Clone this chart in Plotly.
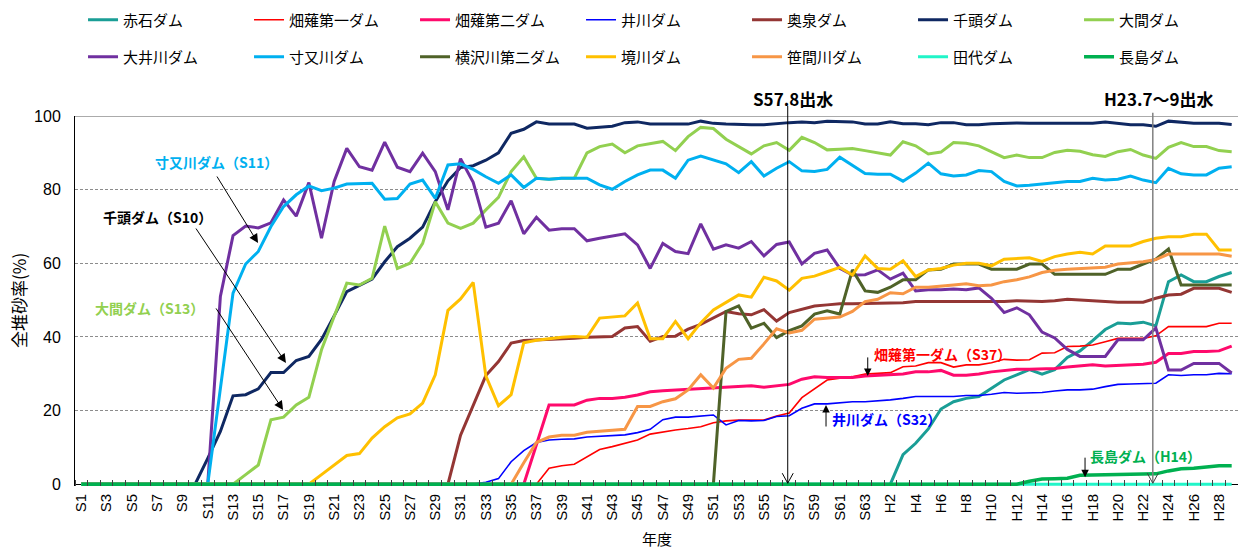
import plotly.graph_objects as go

# ---- categories (fiscal years) ----
years = [f"S{i}" for i in range(1, 64)] + [f"H{i}" for i in range(1, 30)]

# ---- series values (全堆砂率 %) ----
akaishi = [0,0,0,0,0,0,0,0,0,0,0,0,0,0,0,0,0,0,0,0,0,0,0,0,0,0,0,0,0,0,0,0,0,0,0,0,0,0,0,0,0,0,0,0,0,0,0,0,0,0,0,0,0,0,0,0,0,0,0,0,0,0,0,0,
           0,8,11.1,15,20.4,22.4,23.3,23.8,26,28.3,29.7,31.1,29.9,31.1,34.4,36.2,39,42,43.8,43.6,44,43,55,56.8,55,55,56.4,57.5]
hatanagi1 = [0,0,0,0,0,0,0,0,0,0,0,0,0,0,0,0,0,0,0,0,0,0,0,0,0,0,0,0,0,0,0,0,0,0,0,0,
             0,4.3,5,5.4,7.3,9.4,10.2,11.1,12,13.6,14.2,14.7,15.1,15.6,16.7,17.2,17.4,17.4,17.4,18.5,19.3,23.5,26,28.3,28.8,29.2,29.9,30.1,30.3,31.9,32.1,33,33,31.8,32.4,32.4,33,33.9,33.7,33.8,35.6,35.7,37.4,37.5,37.8,38.7,39.6,39.6,39.6,40.3,42.8,42.8,42.8,42.8,43.7,43.7]
hatanagi2 = [0,0,0,0,0,0,0,0,0,0,0,0,0,0,0,0,0,0,0,0,0,0,0,0,0,0,0,0,0,0,0,0,0,0,0,
             0,10.7,21.5,21.5,21.5,22.8,23.3,23.3,23.6,24.2,25.1,25.4,25.6,25.8,26.1,26.3,26.5,26.7,26.7,26.3,26.7,27.1,28.5,29.2,29,29,29,29.4,29.6,29.9,29.9,30.5,30.5,30.9,29.6,29.6,29.9,30.5,30.9,31.2,31.2,31.2,31.4,31.8,32.2,32.4,32.1,32.3,32.5,32.6,33.1,35.5,35.5,36,36,36.2,37.5]
ikawa = [0,0,0,0,0,0,0,0,0,0,0,0,0,0,0,0,0,0,0,0,0,0,0,0,0,0,0,0,0,0,0,
         0,0.5,1.5,6.1,9.1,11.3,12,12.2,12.3,12.8,13,13.1,13.4,14,14.9,17.5,18.2,18.2,18.6,18.8,16.1,17.3,17.2,17.3,18.4,18.6,20.6,21.8,21.8,22.2,22.4,22.4,22.6,22.9,23.3,23.8,23.8,23.8,23.8,24.1,24.1,24.4,24.9,24.7,24.7,24.9,25.3,25.6,25.6,25.8,26.5,27.1,27.2,27.2,27.4,29.7,29.5,29.7,29.7,30.1,30]
okuizumi = [0,0,0,0,0,0,0,0,0,0,0,0,0,0,0,0,0,0,0,0,0,0,0,0,0,0,0,0,0,
            0,13.3,21.5,29.5,33.3,38.3,39,39.1,39.2,39.4,39.6,39.9,39.9,40.1,42.4,42.8,38.8,40.1,40.2,42.1,43.4,45.2,46.9,46.3,46,47.4,44.3,46.6,47.6,48.4,48.7,49,49,49.1,49.1,49.1,49.3,49.6,49.6,49.4,49.4,49.4,49.6,49.6,49.6,49.8,49.6,49.6,49.8,50.2,50,49.7,49.6,49.4,49.4,49.4,50.5,51.4,51.6,53.2,53.2,53.2,52.1]
senzu = [0,0,0,0,0,0,0,0,0,
         0,7,14.3,24,24.3,25.9,30.3,30.3,33.6,34.7,39.3,45.7,52.3,54,55.7,60.4,64.5,66.8,69.8,76.7,82.4,86,86.5,88,90,95.3,96.4,98.4,97.8,97.8,97.8,96.7,96.9,97.2,98.2,98.4,97.8,97.8,98,97.8,98.6,98,97.8,97.6,97.6,97.6,98,98.2,
         98.4,98.2,98.6,98.6,98.4,97.8,97.8,98.4,97.9,97.9,97.6,98.2,98.2,97.6,97.6,97.9,98.1,98.1,98,98,98,98,98,98,98.4,98,97.6,97.6,97.2,98.6,98.3,98,98,98,97.7]
oma = [0,0,0,0,0,0,0,0,0,0,0,0,
       0,2.6,5.2,17.5,18.2,21.5,23.6,36.5,45.5,54.6,54.1,55.9,70.1,58.6,60,65.4,76.7,70.9,69.5,70.9,74.5,77.9,84.9,88.9,83.1,82.8,83.1,83.1,90,91.7,92.4,90,91.9,92.5,93.1,90.6,94.4,96.9,96.6,93.7,91.7,89.7,91.9,92.8,90.7,94.2,92.8,90.8,91,91.2,90.6,90,89.4,93,91.9,89.7,90.2,92.8,92.6,91.9,90.3,88.7,89.4,88.7,88.7,90.1,90.7,90.4,89.5,89,90.3,90.9,89.4,88.5,91.5,92.8,91.7,91.7,90.6,90.3]
oigawa = [0,0,0,0,0,0,0,0,0,0,
          0,51,67.5,70.1,69.6,71,77.2,72.8,81.9,66.8,82.2,91.2,86.2,85.3,92.9,86.1,84.9,89.9,84.9,74.5,88.4,82,69.8,70.9,77,68,72.5,69,69.4,69.4,66.1,66.8,67.4,68,65,58.6,65.4,63.2,62.6,70.7,63.8,65,64.1,65.9,62,65.1,65.8,59.8,62.7,63.6,58.6,56.8,56.9,58.2,55.7,57.3,52.5,52.8,52.8,53,52.8,53.3,50.5,46.6,47.9,46,41.3,39.7,36.6,34.7,34.7,34.7,39.2,39.2,39.2,42.4,31,31,32.8,32.8,32.8,30.2]
sumata = [0,0,0,0,0,0,0,0,0,0,
          0,26,51.9,59.8,63.2,70,75.4,78.6,81,79.7,80.4,81.5,81.5,81.7,77.4,77.6,81.5,82.6,77.6,86.7,87,85.5,83.5,81.7,84,80.6,83.1,82.8,83.1,83.1,83.1,81.3,80.1,82.2,84,85.3,85.3,83.1,88,89.1,88,87,84.6,87.6,83.7,85.8,87.6,85.1,84.9,85.5,88.8,86.7,84.4,84.2,84.2,82.3,84.5,87.2,84.3,83.7,84,85.2,84.9,82.2,81,81.2,81.5,81.9,82.2,82.2,83.1,82.6,82.8,83.7,82.6,81.9,85.8,84.3,84,84,85.8,86.2]
yokosawa2 = [0,0,0,0,0,0,0,0,0,0,0,0,0,0,0,0,0,0,0,0,0,0,0,0,0,0,0,0,0,0,0,0,0,0,0,0,0,0,0,0,0,0,0,0,0,0,0,0,0,0,
             0,46.9,48.4,42.4,43.7,39.8,41.7,43,46.2,47.1,46.2,58.2,52.5,52.1,53.5,55.5,55.5,58.2,58.4,59.8,59.8,59.8,58.4,58.4,58.4,59.8,59.8,57,57,57,57,57,58.4,58.4,59.8,61.1,63.9,54.1,54.1,54.1,54.1,54.1]
sakai = [0,0,0,0,0,0,0,0,0,0,0,0,0,0,0,0,0,0,
         0,2.6,5.3,7.8,8.3,12.5,15.6,18,19.1,22,29.7,47.2,50.3,54.8,29.4,21.3,24.3,38.4,39.1,39.6,39.9,40.1,39.9,45.1,45.3,45.7,49.2,39.5,39.5,44.2,39.5,43.8,47.3,49.3,51.4,50.8,56.2,55.2,52.7,55.9,56.5,57.7,58.9,56.8,62,58.6,58.4,60.7,56.4,58.2,58.6,59.5,60,60,59.3,61.1,61.3,61.5,60.5,61.8,62.5,63,62.5,64.7,64.7,64.7,65.9,66.8,67.2,67.2,67.9,67.9,63.6,63.6]
sasamagawa = [0,0,0,0,0,0,0,0,0,0,0,0,0,0,0,0,0,0,0,0,0,0,0,0,0,0,0,0,0,0,0,0,0,0,
              0,5.8,11.3,12.8,13.3,13.3,14.1,14.4,14.7,14.9,21.1,21.1,22.4,23.2,25.6,29.7,26.1,31.5,33.9,34.2,38.1,42.2,41.1,41.8,44.8,45.1,45.4,46.9,49.6,50.2,52,51.7,53.5,53.5,53.7,54.1,54.4,53.9,54.1,55,55.5,56.3,57.5,58.1,58.4,58.6,58.8,58.9,59.8,60,60.4,61,62.5,62.5,62.5,62.5,62.5,61.9]
tashiro = [0,0,0,0,0,0,0,0,0,0,0,0,0,0,0,0,0,0,0,0,0,0,0,0,0,0,0,0,0,0,0,0,0,0,0,0,0,0,0,0,0,0,0,0,0,0,
           0,0,0,0,0,0,0,0,0,0,0,0,0,0,0,0,0,0,0,0,0,0,0,0,0,0,0,0,0,0,0,0,0,0,0,0,0,0,0,0,0,0,0,0,0,0]
nagashima = [0,0,0,0,0,0,0,0,0,0,0,0,0,0,0,0,0,0,0,0,0,0,0,0,0,0,0,0,0,0,0,0,0,0,0,0,0,0,0,0,0,0,0,0,0,0,0,0,0,0,0,0,0,0,0,0,0,0,0,0,0,0,0,0,0,0,0,0,0,0,0,0,0,0,
             0,0.8,1.4,1.5,1.6,2.4,2.5,2.6,2.7,2.7,2.7,2.8,3.6,4.2,4.3,4.6,5.0,5.0]

series = [
    ("赤石ダム", akaishi, "#1A9E96", 3, "legend"),
    ("畑薙第一ダム", hatanagi1, "#FF0000", 1.6, "legend"),
    ("畑薙第二ダム", hatanagi2, "#FF0A6C", 3, "legend"),
    ("井川ダム", ikawa, "#0000FF", 1.6, "legend"),
    ("奥泉ダム", okuizumi, "#943634", 3, "legend"),
    ("千頭ダム", senzu, "#0F2862", 3, "legend"),
    ("大間ダム", oma, "#92D050", 3, "legend"),
    ("大井川ダム", oigawa, "#7030A0", 3, "legend2"),
    ("寸又川ダム", sumata, "#00B0F0", 3, "legend2"),
    ("横沢川第二ダム", yokosawa2, "#4F6228", 3, "legend2"),
    ("境川ダム", sakai, "#FFC000", 3, "legend2"),
    ("笹間川ダム", sasamagawa, "#F79646", 3, "legend2"),
    ("田代ダム", tashiro, "#21F5C8", 3, "legend2"),
    ("長島ダム", nagashima, "#00B050", 3.5, "legend2"),
]

xi = list(range(len(years)))
JP = "Noto Sans CJK JP"
LAT = "Liberation Sans, Arial"

fig = go.Figure()
for name, vals, col, w, lg in series:
    fig.add_trace(go.Scatter(x=xi, y=vals, name=name, mode="lines",
                             line=dict(color=col, width=w), legend=lg,
                             hoverinfo="skip"))

leg_common = dict(orientation="h", xanchor="left", yanchor="middle",
                  entrywidth=121, entrywidthmode="pixels", itemwidth=30,
                  font=dict(family=JP, size=15, color="black"),
                  bgcolor="rgba(0,0,0,0)", borderwidth=0, traceorder="normal")

fig.update_layout(
    width=1238, height=552, autosize=False,
    margin=dict(l=75, r=0, t=116, b=66, autoexpand=False),
    paper_bgcolor="white", plot_bgcolor="white",
    showlegend=True,
    legend=dict(x=0.0069, y=1.2594, **leg_common),
    legend2=dict(x=0.0069, y=1.1594, **leg_common),
    xaxis=dict(range=[-0.5, len(years) - 0.5], tickmode="array",
               tickvals=xi[::2], ticktext=years[::2], tickangle=-90,
               tickfont=dict(family=LAT, size=15, color="black"),
               ticks="", showgrid=False, zeroline=False, showline=False,
               ticklabelstandoff=4,
               minor=dict(tickmode="array", tickvals=[k - 0.5 for k in range(len(years) + 1)],
                          ticks="inside", ticklen=6, tickwidth=1, tickcolor="#404040",
                          showgrid=False)),
    yaxis=dict(range=[-0.5, 100], tickmode="array", tickvals=[0, 20, 40, 60, 80, 100],
               tickfont=dict(family=LAT, size=16, color="black"),
               ticks="", showgrid=True, gridcolor="#8C8C8C", griddash="3px,2px", gridwidth=1,
               zeroline=True, zerolinecolor="black", zerolinewidth=1,
               showline=True, linecolor="black", linewidth=1, ticklabelstandoff=10),
)

shapes = [
    dict(type="line", xref="paper", yref="y", x0=0, x1=1, y0=100, y1=100,
         line=dict(color="#595959", width=1)),
    dict(type="line", xref="x", yref="paper", x0=55.88, x1=55.88, y0=0.0076, y1=1.027,
         line=dict(color="black", width=1)),
    dict(type="line", xref="x", yref="paper", x0=84.76, x1=84.76, y0=0.0076, y1=1.009,
         line=dict(color="#808080", width=1.5)),
    dict(type="path", xref="x", yref="paper",
         path="M 55.445,0.0346 L 55.88,0.0076 L 56.315,0.0346",
         line=dict(color="black", width=1)),
    dict(type="path", xref="x", yref="paper",
         path="M 84.325,0.0346 L 84.76,0.0076 L 85.195,0.0346",
         line=dict(color="#404040", width=1)),
]
fig.update_layout(shapes=shapes)

def label(text, x, y, color, size=14, yref="y"):
    return dict(text=f"<b>{text}</b>", x=x, y=y, xref="x", yref=yref, showarrow=False,
                font=dict(family=JP, size=size, color=color), xanchor="center", yanchor="middle")

def arrow(x, y, ax, ay, size=1.8):
    return dict(text="", x=x, y=y, xref="x", yref="y", ax=ax, ay=ay, showarrow=True,
                arrowhead=2, arrowsize=size, arrowwidth=1, arrowcolor="black", standoff=0)

annotations = [
    label("寸又川ダム（S11）", 10.66, 87.6, "#00B0F0"),
    label("千頭ダム（S10）", 6.03, 72.7, "black"),
    label("大間ダム（S13）", 5.36, 47.8, "#92D050"),
    label("畑薙第一ダム（S37）", 68.13, 35.4, "#FF0000"),
    label("井川ダム（S32）", 63.72, 17.6, "#0000FF"),
    label("長島ダム（H14）", 84.15, 7.7, "#00B050"),
    label("S57.8出水", 56.3, 1.048, "black", size=17, yref="paper"),
    label("H23.7～9出水", 85.26, 1.048, "black", size=17, yref="paper"),
    arrow(13.98, 65.5, -42, -68),
    arrow(16.19, 32.9, -91, -136),
    arrow(15.96, 20.16, -68, -103),
    arrow(62.21, 29.4, 0, -20, 1.5),
    arrow(58.91, 21.5, 0, 23, 1.5),
    arrow(79.4, 1.9, 0, -21, 1.5),
    dict(text="全堆砂率(%)", x=-0.049, y=0.5, xref="paper", yref="paper", showarrow=False,
         textangle=-90, font=dict(family=JP, size=17, color="black"),
         xanchor="center", yanchor="middle"),
    dict(text="年度", x=0.5, y=-0.141, xref="paper", yref="paper", showarrow=False,
         font=dict(family=JP, size=15, color="black"), xanchor="center", yanchor="middle"),
]
fig.update_layout(annotations=annotations)

fig.write_html("out.html", config={"displayModeBar": False},
               post_script="document.body.style.margin='0';")
